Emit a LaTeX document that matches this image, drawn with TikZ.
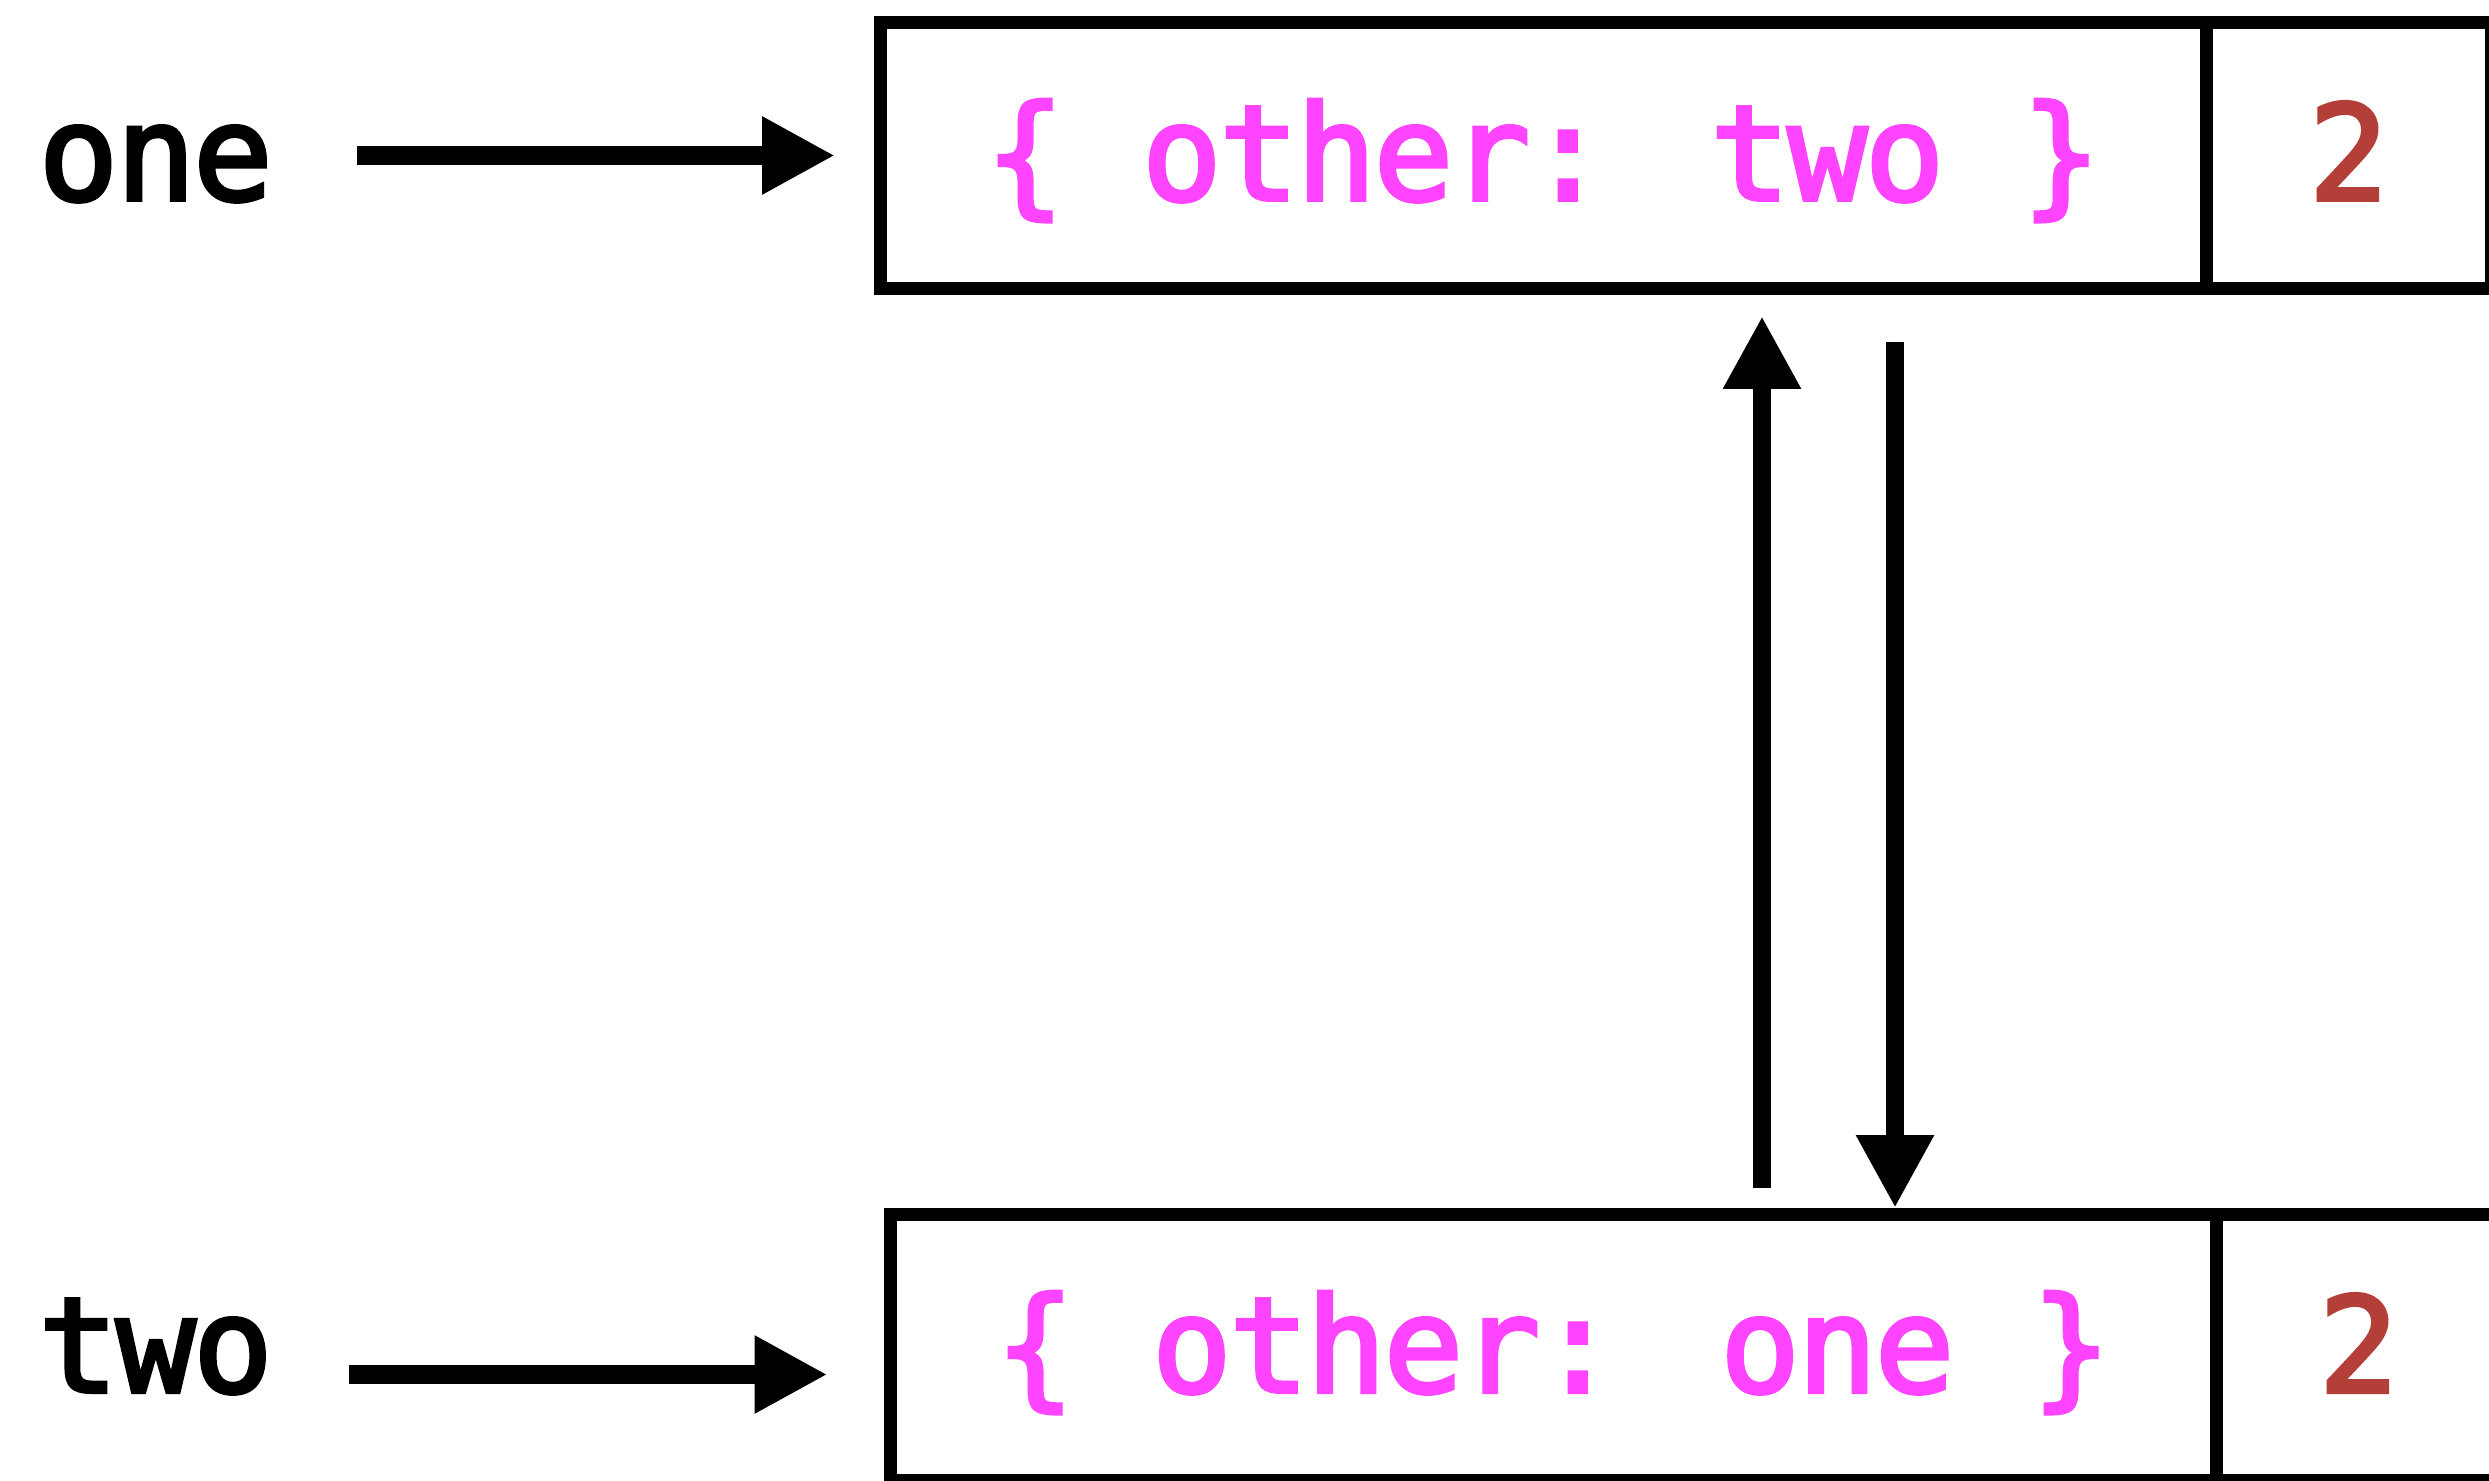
\documentclass[tikz,border=0pt]{standalone}
\usepackage{fontspec}
\newfontfamily\codefont[FakeBold=3,LetterSpace=-1.8]{DejaVu Sans Mono}
\usepackage{tikz}
\usetikzlibrary{arrows.meta,positioning,calc}
\definecolor{fieldpink}{RGB}{255,68,255}
\definecolor{countred}{RGB}{180,62,56}

\tikzset{
    objbox/.style={rectangle, draw=black, line width=0.13cm, minimum width=13.255cm, minimum height=2.66cm, text height=0.89cm, text depth=0pt, inner sep=0pt, text=fieldpink, font=\codefont\fontsize{37.6}{45}\selectfont},
    countbox/.style={objbox, minimum width=2.85cm, text=countred},
    varname/.style={anchor=base west, inner sep=0pt, font=\codefont\fontsize{37.6}{45}\selectfont},
    ptr/.style={line width=0.185cm, -{Triangle[length=0.73cm,width=0.73cm]}}
}

\begin{document}
\begin{tikzpicture}
    \clip (0,0) rectangle (24.89,14.80);
    \fill[white] (0,0) rectangle (24.89,14.80);

    % Objects
    \node[objbox] (objA) at (15.4325,13.245) {\{ other: two \}};
    \node[countbox, right=-0.13cm of objA] (countA) {2};
    \node[objbox, below=9.13cm of objA, xshift=0.1cm] (objB) {\{ other: one \}};
    \node[countbox, right=-0.13cm of objB] (countB) {2};

    % Variables
    \node[varname] (one) at (0.38,12.80) {one};
    \node[varname] (two) at (0.38,0.88) {two};

    % References
    \coordinate (twoptr) at ([yshift=-0.27cm]objB.west);
    \draw[ptr, shorten <=0.835cm, shorten >=0.39cm] (objA.west -| one.east) -- (objA.west);
    \draw[ptr, shorten <=0.755cm, shorten >=0.565cm] (twoptr -| two.east) -- (twoptr);

    % Cycle
    \coordinate (upx) at (17.62,0);
    \coordinate (downx) at (18.95,0);
    \draw[ptr, shorten <=0.2cm, shorten >=0.21cm] (objB.north -| upx) -- (objA.south -| upx);
    \draw[ptr, shorten <=0.47cm] (objA.south -| downx) -- (objB.north -| downx);
\end{tikzpicture}
\end{document}
